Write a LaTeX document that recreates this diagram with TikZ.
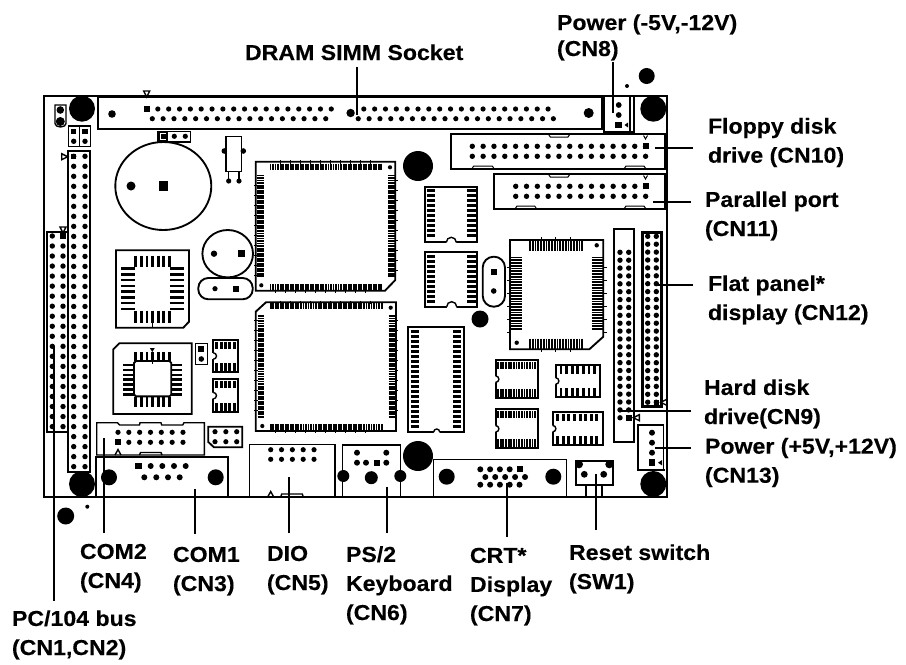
\documentclass[tikz,border=0pt]{standalone}
\usepackage{fontspec}
\setmainfont{Liberation Sans}
\newfontfamily\lblfont[FakeStretch=1.07,FakeBold=0.25]{Liberation Sans Bold}
\usetikzlibrary{calc}
\tikzset{
  thin line/.style={line width=0.75pt},
  mid line/.style={line width=1.05pt},
  thick line/.style={line width=1.4pt},
  leader/.style={line width=1.6pt,line cap=butt},
  lab/.style={anchor=base west,align=left,inner sep=0pt,outer sep=0pt,font=\lblfont\fontsize{16.2pt}{#1}\selectfont},
  lab/.default={21.8pt},
  pad/.style={fill=black},
  pin/.style={line cap=butt},
}
% dot grid: x0,dx,nx-1,y0,dy,ny-1,r
\newcommand\dotgrid[7]{\foreach \i in {0,...,#3}{\foreach \j in {0,...,#6}{\fill ({#1+\i*#2},{#4+\j*#5}) circle[radius=#7];}}}
% square pad: x,y,half-size
\newcommand\sqpad[3]{\fill ({#1-#3},{#2-#3}) rectangle ({#1+#3},{#2+#3});}
\newcommand\bigdot[3]{\fill (#1,#2) circle[radius=#3];}
% vertical pins: x0,dx,n-1,y1,y2,width
\newcommand\vpins[6]{\foreach \i in {0,...,#3}{\draw[pin,line width=#6] ({#1+\i*#2},#4)--({#1+\i*#2},#5);}}
% horizontal pins: y0,dy,n-1,x1,x2,width
\newcommand\hpins[6]{\foreach \i in {0,...,#3}{\draw[pin,line width=#6] (#4,{#1+\i*#2})--(#5,{#1+\i*#2});}}
% triangle marker pointing down / right / left outline
\newcommand\tridown[2]{\draw[mid line,fill=white] ({#1-3},{#2-3})--({#1+3},{#2-3})--(#1,{#2+3})--cycle;}
\newcommand\triright[2]{\draw[mid line,fill=white] ({#1-3},{#2-3})--({#1-3},{#2+3})--({#1+3},#2)--cycle;}
\newcommand\trileft[2]{\draw[mid line,fill=white] ({#1+3},{#2-3})--({#1+3},{#2+3})--({#1-3},#2)--cycle;}
% notches
\newcommand\notchleft[3]{\fill[white] (#1,#2) circle[radius=#3]; \draw[mid line] (#1,{#2-#3}) arc(-90:90:#3);}
\newcommand\notchbottom[3]{\fill[white] (#1,#2) circle[radius=#3]; \draw[mid line] ({#1-#3},#2) arc(180:360:#3);}
% trapezoid latch: x1,x2,y edge,y inner
\newcommand\latch[4]{\draw[thin line] (#1,#3)--({#1+2},#4)--({#2-2},#4)--(#2,#3);}
% fine-pitch QFP sides
\newcommand\qfpH[4]{% x0, n-1, y1, y2
  \vpins{#1}{2.52}{#2}{#3}{#4}{1.4pt}}
\newcommand\qfpV[4]{% y0, n-1, x1, x2
  \hpins{#1}{2.52}{#2}{#3}{#4}{1.4pt}}
\newcommand\qfpTicksH[4]{\foreach \i in {0,...,#2}{\draw[thin line] ({#1+\i*10.1},#3)--({#1+\i*10.1},#4);}}
\newcommand\qfpTicksV[4]{\foreach \i in {0,...,#2}{\draw[thin line] (#3,{#1+\i*10.1})--(#4,{#1+\i*10.1});}}
% wide DIP: x1,x2,y1,y2,offset in,offset out,firsty,n-1
\newcommand\dipV[8]{\draw[thick line] (#1,#3) rectangle (#2,#4);
  \hpins{#7}{5}{#8}{{#1+#5}}{{#1+#6}}{2.2pt}
  \hpins{#7}{5}{#8}{{#2-#6}}{{#2-#5}}{2.2pt}}
% small DIP: x1,x2,y1,y2,x0,dx,n-1,width
\newcommand\dipH[8]{\draw[thick line] (#1,#3) rectangle (#2,#4);
  \vpins{#5}{#6}{#7}{{#3+1.5}}{{#3+9}}{#8}
  \vpins{#5}{#6}{#7}{{#4-9}}{{#4-1.5}}{#8}
  \pgfmathsetmacro\notchy{(#3+#4)/2}\notchleft{#1}{\notchy}{3.2}}
\begin{document}
\begin{tikzpicture}[x=0.75pt,y=-0.75pt]
\useasboundingbox (0,0) rectangle (906,664);
\fill[white] (0,0) rectangle (906,664);

% outside mounting marks
\bigdot{646.7}{76}{8}
\bigdot{627}{86}{2}
\bigdot{65.7}{516}{8.5}
\bigdot{87.3}{506.7}{2}

% board
\draw[line width=1.5pt] (44,96) rectangle (667,497);

% DRAM SIMM socket
\draw[thick line] (98,97) rectangle (602,129);
\tridown{146.7}{94}
\sqpad{147}{109}{3}
\foreach \i in {1,...,17,20,21,...,37}{\fill ({147+\i*10.84},109) circle[radius=2.6];}
\foreach \i in {0,...,16,19,20,...,37}{\fill ({152.3+\i*10.84},118.7) circle[radius=2.6];}
\bigdot{112}{114}{3.8}
\bigdot{350.6}{113}{4.2}
\bigdot{588.7}{113}{5}

% corner mounts
\bigdot{82}{108.7}{13}
\bigdot{653.3}{108.7}{13}
\bigdot{82}{484}{13}
\bigdot{653.3}{484}{13}
\bigdot{418}{166}{15}
\bigdot{480}{319}{8.5}
\bigdot{418}{456}{15}

% top-left jumpers
\draw[mid line] (55,105)--(66,105)--(66,123.5) arc(0:180:5.5 and 3.5)--cycle;
\bigdot{60.3}{110}{3.8}
\bigdot{60.3}{121.5}{4.5}
\draw[mid line] (68.3,126) rectangle (90.3,146.3);
\draw[mid line] (79.3,126)--(79.3,146.3);
\sqpad{73.7}{131.3}{2.7}\sqpad{85}{131.3}{2.7}
\bigdot{73.7}{141.3}{2.7}\bigdot{85}{141.3}{2.7}

% CN1 strip
\draw[thick line] (68.3,151.3) rectangle (90.3,471.7);
\dotgrid{73.7}{11.3}{1}{156.3}{10.01}{31}{2.7}
\sqpad{73.7}{156.3}{2.7}
\triright{64.7}{156.7}
% CN2 strip
\draw[thick line] (46.7,231.7) rectangle (68.3,432);
\dotgrid{52.3}{10.7}{1}{236}{10.03}{19}{2.7}
\sqpad{63}{236}{2.7}
\tridown{63}{230}

% header below socket
\draw[mid line] (157.3,131.3) rectangle (190.7,142);
\fill (157.3,131.3) rectangle (168.3,142);
\fill[white] (160.3,133.3) rectangle (166.3,139.7);
\sqpad{163.3}{136.3}{2.2}
\bigdot{174.3}{136.3}{2.6}\bigdot{185.3}{136.3}{2.6}

% battery
\draw[thick line] (163.3,186) ellipse[x radius=48,y radius=44];
\bigdot{131}{186}{4.5}
\sqpad{163.3}{186}{4.6}

% crystal
\draw[mid line] (226,136.3) rectangle (241.3,171.7);
\bigdot{224.3}{151}{2.8}\bigdot{243.3}{151}{2.8}
\draw[mid line] (228.7,171.7)--(228.7,181);
\draw[mid line] (239,171.7)--(239,181);
\bigdot{228.7}{181}{2.6}\bigdot{239}{181}{2.6}

% round transistor and oval
\draw[thick line] (227.7,253.7) ellipse[x radius=25.3,y radius=23.7];
\bigdot{214}{253.7}{3.2}
\sqpad{241.7}{253.7}{3.4}
\draw[thick line,rounded corners=7.5pt] (198.3,278) rectangle (252.7,299.3);
\bigdot{215}{288.7}{2.6}
\sqpad{236.3}{288.7}{3}

% QFP 1
\draw[thick line] (255.7,161.7)--(395.3,161.7)--(395.3,280)--(385,290.7)--(255.7,290.7)--cycle;
\qfpH{270.5}{44}{163.5}{169.5}
\qfpH{270.5}{44}{284}{290}
\qfpV{175.5}{40}{256.7}{263.5}
\qfpV{175.5}{40}{388.3}{395}
\qfpTicksH{280}{9}{160}{163.5}
\qfpTicksH{275}{9}{290}{292.5}
\qfpTicksV{185}{9}{254}{257}
\qfpTicksV{180}{9}{395}{397.5}
\bigdot{390}{167.3}{2.1}
\bigdot{261.3}{285.3}{2.1}

% QFP 2
\draw[thick line] (266,302.3)--(396,302.3)--(396,431)--(255.7,431)--(255.7,311.7)--cycle;
\qfpH{270.7}{44}{303.3}{309.3}
\qfpH{270.7}{44}{424.3}{430.3}
\qfpV{316}{40}{257.5}{264.3}
\qfpV{316}{40}{388.5}{395.5}
\qfpTicksH{280}{9}{300.5}{303.5}
\qfpTicksH{275}{9}{430}{433}
\qfpTicksV{320}{9}{254}{257.5}
\qfpTicksV{320}{9}{395.5}{398}
\bigdot{390.7}{307.7}{2.1}
\bigdot{262.3}{426}{2.1}

% PLCC A
\draw[thick line] (116,250.3)--(189,250.3)--(189,321.7)--(183.3,327.7)--(116,327.7)--cycle;
\vpins{135.7}{5.6}{6}{255.7}{267.3}{2.1pt}
\vpins{135.7}{5.6}{6}{310.7}{322.7}{2.1pt}
\hpins{268.7}{5.75}{7}{121.3}{134.7}{1.9pt}
\hpins{268.7}{5.75}{7}{170.3}{183.7}{1.9pt}
\draw[thin line] (152.5,311)--(152.5,327);

% PLCC B
\draw[thick line] (119.3,343.3)--(191.7,343.3)--(191.7,414)--(113.3,414)--(113.3,349.3)--cycle;
\vpins{135.7}{5.6}{6}{352.3}{361}{2.1pt}
\vpins{135.7}{5.6}{6}{397.3}{406.7}{2.1pt}
\hpins{365.2}{4.85}{6}{123.3}{134}{1.9pt}
\hpins{365.2}{4.85}{6}{171.3}{182}{1.9pt}
\draw[thick line] (134,363)--(136,361)--(169.5,361)--(171.3,363)--(171.3,394.5)--(169.5,396.4)--(136,396.4)--(134,394.5)--cycle;
\draw[thin line] (152.3,352)--(152.3,364);
\fill ({152.3-2.5},348)--({152.3+2.5},348)--(152.3,352)--cycle;

% jumper
\draw[mid line] (195.7,343.3) rectangle (207.3,364.7);
\sqpad{201.3}{349.3}{3}
\bigdot{201.3}{359}{2.8}

% small DIPs left
\dipH{213.3}{237.7}{340}{372}{216.7}{4.4}{4}{2.2pt}
\dipH{213.3}{237.7}{379.3}{412}{216.7}{4.4}{4}{2.2pt}

% COM2 box
\draw[mid line] (96.7,422.7)--(117.5,422.7)--(119.5,425)--(139.5,425)--(140,422.7)--(161,422.7)--(161.7,425)--(182.7,425)--(184,422.7)--(204.3,422.7)--(204.3,455)--(96.7,455)--cycle;
\dotgrid{118}{10.83}{6}{432.3}{10}{1}{2.6}
\sqpad{118}{442.3}{3}
\draw[mid line] (115,455)--(118,449.5)--(121,455);
\draw[mid line] (139.5,455)--(140.5,452.5)--(161,452.5)--(162,455);

% small 2x3
\draw[thick line] (208.3,426.7)--(242.3,426.7)--(242.3,447.3)--(214,447.3)--(208.3,442)--cycle;
\dotgrid{215}{10.85}{2}{431.7}{10}{1}{2.6}

% COM1
\draw[thick line] (95.7,497)--(95.7,456.7)--(228.3,456.7)--(228.3,497);
\bigdot{109}{477.3}{8}
\bigdot{215.7}{477.3}{8}
\sqpad{138.3}{466}{3.4}
\foreach \x in {150.7,162.3,174,185.7}{\bigdot{\x}{466}{3}}
\foreach \x in {144.3,156.3,168,179.7}{\bigdot{\x}{477.3}{3}}

% DIO
\draw[mid line] (249.7,497)--(249.7,444.3)--(335,444.3)--(335,497);
\dotgrid{270.7}{10.83}{4}{449.7}{9.6}{1}{2.6}
\draw[mid line] (267.7,497)--(270.7,491.5)--(273.7,497);
\draw[mid line] (280.7,497)--(281.7,494)--(302.3,494)--(303.3,497);

% PS/2
\draw[mid line] (342.3,497)--(342.3,445)--(400.7,445)--(400.7,497);
\bigdot{357}{452.7}{3}\bigdot{386.3}{452.7}{3}
\bigdot{357}{462.7}{3}\bigdot{366}{462.7}{3}
\sqpad{377}{462.7}{3.2}\bigdot{386.3}{462.7}{3}
\bigdot{371.3}{477.7}{6.5}
\bigdot{343.3}{476}{6}
\bigdot{400.3}{476}{6}

% CRT
\draw[mid line] (433.3,497)--(433.3,459.7)--(566.7,459.7)--(566.7,497);
\bigdot{446.7}{476.7}{8}
\bigdot{553.3}{476.7}{8}
\dotgrid{480.3}{9.8}{3}{469.3}{10}{0}{3}
\sqpad{519.7}{469.3}{3}
\dotgrid{485.3}{9.93}{4}{477}{10}{0}{3}
\dotgrid{480.3}{9.8}{4}{484.7}{10}{0}{3}

% Reset switch
\draw[thick line] (575.7,460.7) rectangle (612.7,485);
\bigdot{579}{464.3}{4}\bigdot{609.3}{464.3}{4}
\bigdot{584.3}{474.3}{3.4}\bigdot{603.7}{474.3}{3.4}
\draw[mid line] (586,485)--(586,497);
\draw[mid line] (602,485)--(602,497);

% memory chip long
\dipV{407.7}{464.3}{326.7}{432}{3}{11}{331.7}{19}
\notchbottom{436.7}{432}{3}

% memory DIPs
\dipV{425.3}{477.3}{186.7}{242.3}{1.5}{10}{190.7}{9}
\notchbottom{451.3}{242.3}{5}
\dipV{425.3}{477.3}{251.7}{306.7}{1.5}{10}{256.2}{9}
\notchbottom{451.7}{306.7}{5}

% oblong crystal
\draw[thick line,rounded corners=8.2pt] (482.7,256.7) rectangle (505,306.7);
\sqpad{493.7}{271.7}{3.2}
\bigdot{493.7}{291}{2.8}

% QFP 3
\draw[thick line] (510,240)--(603.3,240)--(603.3,336.7)--(589.3,349.3)--(510,349.3)--cycle;
\vpins{530}{2.75}{19}{241}{251}{1.4pt}
\vpins{530}{2.75}{19}{338.5}{348.5}{1.4pt}
\hpins{257.5}{2.75}{26}{511}{522}{1.4pt}
\hpins{257.5}{2.75}{26}{591.7}{603}{1.4pt}
\foreach \x in {541,555,570}{\draw[thin line] (\x,237)--(\x,241);\draw[thin line] (\x,348)--(\x,351.5);}
\foreach \y in {267,280,293,306,319,332}{\draw[thin line] (507,\y)--(511,\y);\draw[thin line] (603,\y)--(606.5,\y);}
\bigdot{596.7}{245.3}{2.2}
\bigdot{516.7}{342.7}{2.2}

% chips centre
\dipH{495.7}{538.3}{360}{398.3}{498}{2.65}{14}{1.4pt}
\dipH{495.7}{538.3}{409.3}{448.3}{498}{2.65}{14}{1.4pt}
\dipH{555.7}{599.7}{364.7}{397.3}{561}{5.6}{6}{2.2pt}
\dipH{552.7}{602.7}{412.3}{445}{557.7}{5.6}{7}{2.2pt}

% CN9
\draw[thick line] (614,228.7) rectangle (634,442);
\dotgrid{620}{8.7}{1}{252.3}{7.88}{21}{2.7}
\sqpad{628.7}{417.7}{2.8}
\trileft{636.3}{417.7}

% CN12
\draw[thick line] (641.7,231.7) rectangle (661.7,407.3);
\draw[thin line] (643.2,233.2) rectangle (660.2,405.8);
\dotgrid{647.7}{8.6}{1}{236.3}{7.9}{21}{2.7}
\sqpad{656.3}{402.3}{2.8}
\trileft{663.7}{402.3}

% Floppy CN10
\draw[thick line] (450.7,134) rectangle (665,169);
\latch{548.3}{570}{134}{137}
\latch{471.7}{494.3}{169}{166}
\latch{624}{646}{169}{166}
\dotgrid{472.3}{10.83}{16}{146.3}{10}{1}{2.7}
\sqpad{645.7}{146.3}{3}
\draw[thin line] (643.5,135.5)--(645.5,139)--(647.5,135.5);

% Parallel CN11
\draw[thick line] (494,174) rectangle (665,209);
\latch{548.3}{570}{174}{177}
\latch{515}{536.7}{209}{206}
\latch{624}{646}{209}{206}
\dotgrid{515.7}{10.83}{12}{186.3}{10}{1}{2.7}
\sqpad{645.7}{186.3}{3}
\draw[thin line] (643.5,175.5)--(645.5,179)--(647.5,175.5);

% CN8
\draw[thick line] (604,96.7)--(604,132.3)--(634,132.3)--(634,96.7);
\draw[mid line] (630,96.7)--(630,132.3);
\bigdot{618.7}{105}{2.9}\bigdot{618.7}{115}{2.9}
\sqpad{618.7}{125}{3.4}
\fill (624.5,125)--(628,122.5)--(628,127.5)--cycle;

% CN13
\draw[thick line] (664,425)--(637.7,425)--(637.7,470)--(665,470);
\draw[thin line] (663,425)--(663,470);
\bigdot{652}{432.7}{3}\bigdot{652}{442.7}{3}\bigdot{652}{452.7}{3}
\sqpad{652}{462.7}{3.3}
\fill (658,462.7)--(662,460)--(662,465.4)--cycle;

% Labels
\node[lab] (ldram) at (245,60) {DRAM SIMM Socket};
\node[lab=19.5pt] (lcn8) at (557,56) {Power (-5V,-12V)\\(CN8)};
\node[lab] (lcn10) at (708,162.7) {Floppy disk\\drive (CN10)};
\node[lab] (lcn11) at (705,236) {Parallel port\\(CN11)};
\node[lab] (lcn12) at (708,320) {Flat panel*\\display (CN12)};
\node[lab] (lcn9) at (704,424) {Hard disk\\drive(CN9)};
\node[lab] (lcn13) at (705,482.7) {Power (+5V,+12V)\\(CN13)};
\node[lab] (lcn4) at (80,588) {COM2\\(CN4)};
\node[lab] (lcn3) at (173,591) {COM1\\(CN3)};
\node[lab] (lcn5) at (267,590) {DIO\\(CN5)};
\node[lab] (lcn6) at (346,620) {PS/2\\Keyboard\\(CN6)};
\node[lab] (lcn2) at (12,655) {PC/104 bus\\(CN1,CN2)};
\node[lab] (lcn7) at (470,621) {CRT*\\Display\\(CN7)};
\node[lab] (lsw1) at (569,589) {Reset switch\\(SW1)};

% Leader anchors
\coordinate (tdram) at (357.3,115);   \coordinate (sdram) at (357.3,67);
\coordinate (tcn8)  at (612.7,113);   \coordinate (scn8) at (612.7,62);
\coordinate (tcn10) at (655,147.7);   \coordinate (scn10) at (693,147.7);
\coordinate (tcn11) at (653.3,201.7); \coordinate (scn11) at (691,201.7);
\coordinate (tcn12) at (655,285);     \coordinate (scn12) at (693,285);
\coordinate (tcn9)  at (621.7,410.7); \coordinate (scn9) at (691,410.7);
\coordinate (tcn13) at (655,447.7);   \coordinate (scn13) at (691,447.7);
\coordinate (tsw1)  at (595.7,474.3); \coordinate (ssw1) at (595.7,530);
\coordinate (tcn7)  at (506.7,483);   \coordinate (scn7) at (506.7,537);
\coordinate (tcn6)  at (387,486.7);   \coordinate (scn6) at (387,533);
\coordinate (tcn5)  at (288.7,477.3); \coordinate (scn5) at (288.7,533);
\coordinate (tcn3)  at (195.3,489);   \coordinate (scn3) at (195.3,534);
\coordinate (tcn4)  at (104.3,438.3); \coordinate (scn4) at (104.3,533);
\coordinate (tcn2)  at (53.7,346.7);  \coordinate (scn2) at (53.7,601);
\foreach \n in {dram,cn8,cn10,cn11,cn12,cn9,cn13,sw1,cn7,cn6,cn5,cn3,cn4,cn2}{\draw[leader] (s\n)--(t\n);}
\end{tikzpicture}
\end{document}
